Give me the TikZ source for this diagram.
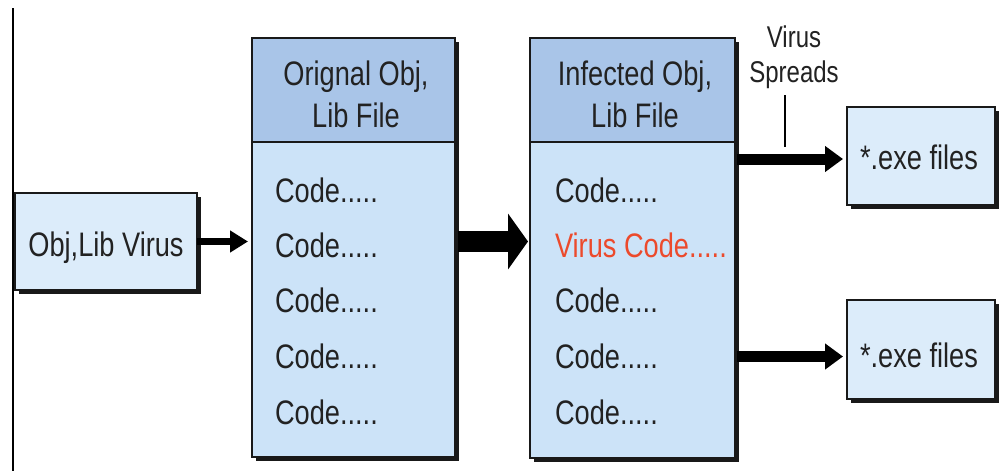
\documentclass[tikz,border=0pt]{standalone}
\usepackage{fontspec}
\setmainfont{Liberation Sans}[FakeStretch=0.8]
\usetikzlibrary{arrows.meta,shadows}
\definecolor{hdrblue}{HTML}{A9C5E8}
\definecolor{bodyblue}{HTML}{CCE3F8}
\definecolor{paleblue}{HTML}{DCECFA}
\definecolor{inktext}{HTML}{222222}
\definecolor{virusred}{HTML}{EC4A2C}
\tikzset{
  panel/.style={draw=black!90, line width=1.6pt, inner sep=0pt, outer sep=0pt,
    anchor=north west, general shadow={fill=black!90, shadow xshift=4pt, shadow yshift=-4pt}},
  header/.style={draw=black!90, line width=1.6pt, inner sep=0pt, outer sep=0pt,
    anchor=north west, fill=hdrblue},
  txt/.style={inner sep=0pt, outer sep=0pt, text=inktext, font=\fontsize{34}{40}\selectfont},
  smalltxt/.style={inner sep=0pt, outer sep=0pt, text=inktext, font=\fontsize{30}{36}\selectfont},
  thinarrow/.style={line width=7pt, -{Triangle[length=18pt,width=21pt]}, shorten >=4pt},
  midarrow/.style={line width=11pt, -{Triangle[length=18pt,width=25pt]}, shorten >=4pt},
  fatarrow/.style={line width=21pt, -{Triangle[length=20pt,width=55pt]}, shorten >=2pt},
}
\begin{document}
\begin{tikzpicture}[x=1pt,y=-1pt]
\useasboundingbox (0,0) rectangle (1004,471);
\fill[white] (0,0) rectangle (1004,471);

% left margin rule
\coordinate (ruletop) at (13,8);
\coordinate (rulebot) at (13,471);
\draw[line width=2pt] (ruletop) -- (rulebot);

% source virus box
\node[panel, fill=paleblue, minimum width=182pt, minimum height=97pt] (virus) at (15,193) {};
\node[txt, anchor=base] (virustxt) at (106,256) {Obj,Lib Virus};

% original file
\node[panel, fill=bodyblue, minimum width=203pt, minimum height=419pt] (orig) at (252,38) {};
\node[header, minimum width=203pt, minimum height=104pt] (orighdr) at (252,38) {};
\node[txt, anchor=base] (origh1) at (356,85) {Orignal Obj,};
\node[txt, anchor=base] (origh2) at (356,127) {Lib File};
\node[txt, anchor=base west] (oc1) at (275,202) {Code.....};
\node[txt, anchor=base west] (oc2) at (275,257) {Code.....};
\node[txt, anchor=base west] (oc3) at (275,312) {Code.....};
\node[txt, anchor=base west] (oc4) at (275,368) {Code.....};
\node[txt, anchor=base west] (oc5) at (275,424) {Code.....};

% infected file
\node[panel, fill=bodyblue, minimum width=205pt, minimum height=420pt] (inf) at (530,38) {};
\node[header, minimum width=205pt, minimum height=104pt] (infhdr) at (530,38) {};
\node[txt, anchor=base] (infh1) at (635,85) {Infected Obj,};
\node[txt, anchor=base] (infh2) at (635,127) {Lib File};
\node[txt, anchor=base west] (ic1) at (555,202) {Code.....};
\node[txt, anchor=base west, text=virusred] (ic2) at (555,257) {Virus Code.....};
\node[txt, anchor=base west] (ic3) at (555,312) {Code.....};
\node[txt, anchor=base west] (ic4) at (555,368) {Code.....};
\node[txt, anchor=base west] (ic5) at (555,424) {Code.....};

% executable targets
\node[panel, fill=paleblue, minimum width=148pt, minimum height=98pt] (exea) at (847,107) {};
\node[txt, anchor=base] (exeatxt) at (919,169) {*.exe files};
\node[panel, fill=paleblue, minimum width=148pt, minimum height=99pt] (exeb) at (847,300) {};
\node[txt, anchor=base] (exebtxt) at (919,367) {*.exe files};

% spread label
\node[smalltxt, anchor=base] (spr1) at (794,47) {Virus};
\node[smalltxt, anchor=base] (spr2) at (794,82) {Spreads};
\coordinate (tickbot) at (785,147);
\draw[line width=1.5pt] (785,95) -- (tickbot);

% connectors
\draw[thinarrow] (virus.east) -- (virus.east -| orig.west);
\draw[fatarrow] ([xshift=3pt]orig.east |- virus.east) -- (virus.east -| inf.west);
\draw[midarrow] ([xshift=2pt,yshift=-3pt]inf.east |- exea.west) -- ([yshift=-3pt]exea.west);
\draw[midarrow] ([xshift=2pt,yshift=-7pt]inf.east |- exeb.west) -- ([yshift=-7pt]exeb.west);
\end{tikzpicture}
\end{document}
